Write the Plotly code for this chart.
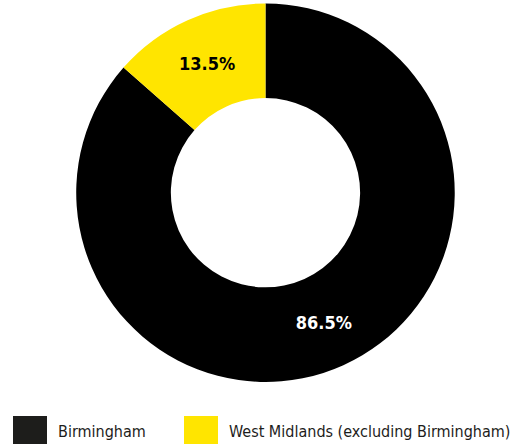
import plotly.graph_objects as go

# Share of the total, by area
categories = ["Birmingham", "West Midlands (excluding Birmingham)"]
shares = [86.5, 13.5]
slice_colors = ["#000000", "#FFE500"]
label_colors = ["#FFFFFF", "#000000"]
legend_colors = ["#1D1D1B", "#FFE500"]

FONT = "DejaVu Sans Condensed, Roboto, sans-serif"

fig = go.Figure(
    go.Pie(
        labels=categories,
        values=shares,
        hole=0.5,
        sort=False,
        direction="clockwise",
        rotation=0,
        marker=dict(colors=slice_colors, line=dict(width=0)),
        texttemplate="<b>%{value:.1f}%</b>",
        textposition="inside",
        insidetextorientation="horizontal",
        textfont=dict(family=FONT, size=18, color=label_colors),
        hoverinfo="label+value",
        domain=dict(x=[0.148, 0.883], y=[0.137, 0.995]),
        showlegend=False,
    )
)

# Custom legend row along the bottom edge
legend_x = [13, 184]
shapes = []
annotations = []
for name, color, x0 in zip(categories, legend_colors, legend_x):
    shapes.append(dict(type="rect", xref="x", yref="y", x0=x0, x1=x0 + 34,
                       y0=416, y1=446, fillcolor=color, line=dict(width=0)))
    annotations.append(dict(xref="x", yref="y", x=x0 + 43, y=431, text=name,
                            showarrow=False, xanchor="left", yanchor="middle",
                            font=dict(family=FONT, size=16, color="#1D1D1B")))

fig.update_layout(
    width=515,
    height=444,
    margin=dict(l=0, r=0, t=0, b=0),
    paper_bgcolor="white",
    plot_bgcolor="rgba(0,0,0,0)",
    xaxis=dict(range=[0, 515], visible=False, fixedrange=True),
    yaxis=dict(range=[444, 0], visible=False, fixedrange=True),
    shapes=shapes,
    annotations=annotations,
)

fig.write_html("out.html")
